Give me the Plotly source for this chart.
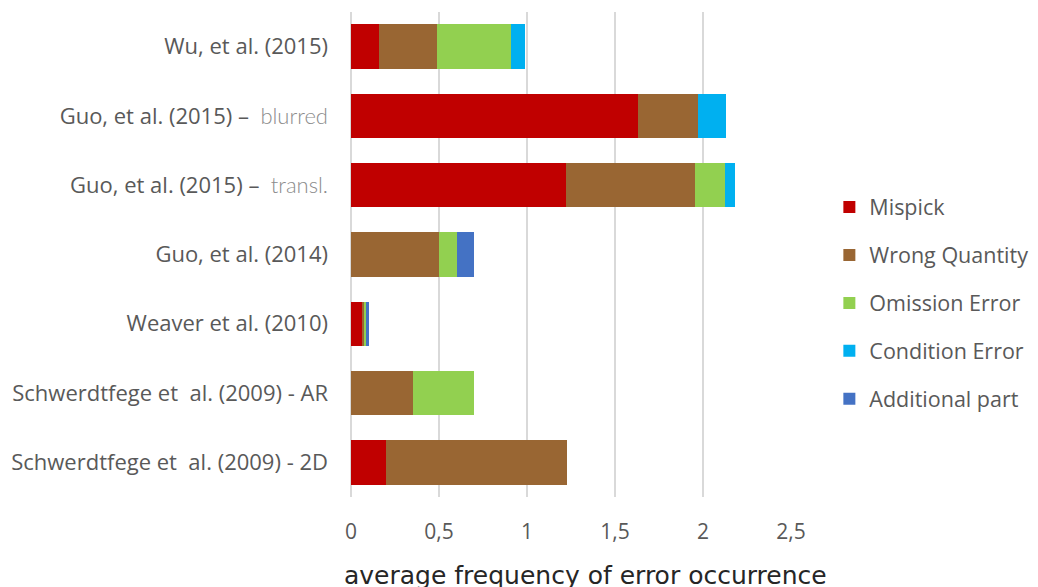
import plotly.graph_objects as go

# Studies, listed top to bottom
studies = [
    "Wu, et al. (2015)",
    "Guo, et al. (2015) –  <span style='color:#8c8c8c;font-family:Lato;font-weight:300'>blurred</span>",
    "Guo, et al. (2015) –  <span style='color:#8c8c8c;font-family:Lato;font-weight:300'>transl.</span>",
    "Guo, et al. (2014)",
    "Weaver et al. (2010)",
    "Schwerdtfege et  al. (2009) - AR",
    "Schwerdtfege et  al. (2009) - 2D",
]

# Average frequency of each error type per study
mispick        = [0.16, 1.63, 1.22, 0.00, 0.065, 0.00, 0.20]
wrong_quantity = [0.33, 0.34, 0.735, 0.50, 0.008, 0.35, 1.03]
omission_error = [0.42, 0.00, 0.17, 0.10, 0.015, 0.35, 0.00]
condition_error = [0.08, 0.16, 0.055, 0.00, 0.00, 0.00, 0.00]
additional_part = [0.00, 0.00, 0.00, 0.10, 0.012, 0.00, 0.00]

series = [
    ("Mispick", mispick, "#C00000"),
    ("Wrong Quantity", wrong_quantity, "#996633"),
    ("Omission Error", omission_error, "#92D050"),
    ("Condition Error", condition_error, "#00B0F0"),
    ("Additional part", additional_part, "#4472C4"),
]

x_ticks = [0, 0.5, 1, 1.5, 2, 2.5]

fig = go.Figure()
for name, vals, color in series:
    fig.add_trace(go.Bar(
        y=list(range(len(studies))),
        x=vals,
        name=name,
        orientation="h",
        legendgroup=name,
        marker=dict(color=color, line=dict(width=0)),
        hoverinfo="x+name",
    ))

fig.update_layout(
    barmode="stack",
    bargap=0.36,
    width=1038,
    height=587,
    margin=dict(l=351, r=247, t=12, b=90),
    paper_bgcolor="white",
    plot_bgcolor="white",
    separators=", ",
    font=dict(family="Open Sans", color="#595959", size=20),
    legend=dict(
        x=0.799, xref="container", xanchor="left",
        y=0.40, yanchor="middle",
        font=dict(size=21.5, color="#595959"),
        tracegroupgap=17,
        itemwidth=30,
        bgcolor="rgba(0,0,0,0)",
    ),
    xaxis=dict(
        range=[0, 2.5],
        tickvals=x_ticks,
        showgrid=True,
        gridcolor="#d9d9d9",
        gridwidth=2,
        zeroline=True,
        zerolinecolor="#d9d9d9",
        zerolinewidth=2,
        showline=False,
        ticks="",
        ticklabelstandoff=20,
        tickfont=dict(size=21, color="#595959"),
    ),
    yaxis=dict(
        tickvals=list(range(len(studies))),
        ticktext=studies,
        range=[len(studies) - 0.5, -0.5],
        showgrid=False,
        zeroline=False,
        showline=False,
        ticks="",
        ticklabelstandoff=22,
        tickfont=dict(size=22, color="#595959"),
    ),
    annotations=[dict(
        text="average frequency of error occurrence",
        xref="paper", yref="paper",
        x=0.532, y=0, xanchor="center", yanchor="middle",
        yshift=-78,
        showarrow=False,
        font=dict(family="DejaVu Sans", size=25, color="#262626"),
    )],
)

fig.write_html("out.html")
